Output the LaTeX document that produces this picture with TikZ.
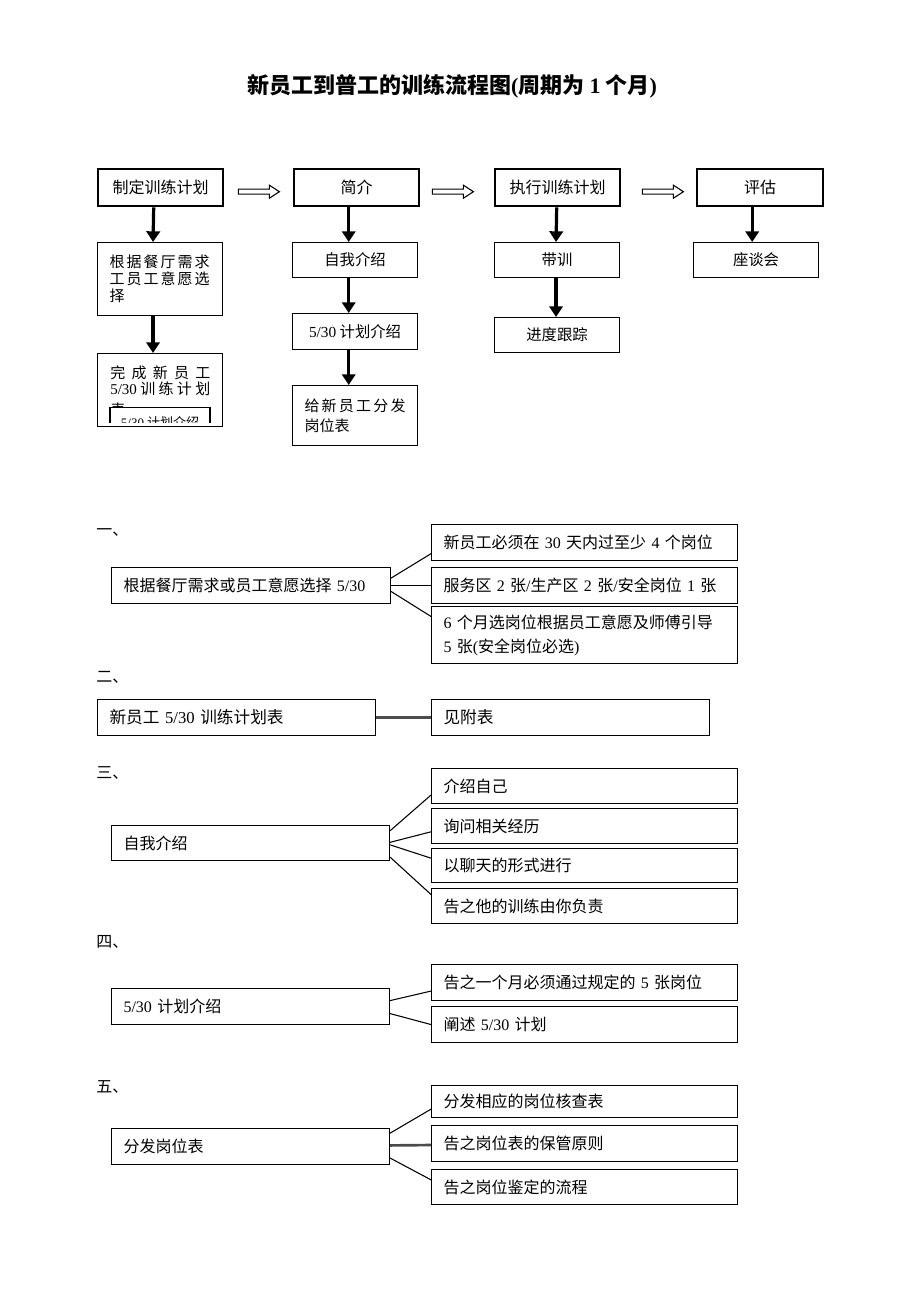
\documentclass[tikz,border=0pt]{standalone}
\usepackage{fontspec}
\setmainfont{Liberation Serif}
\newfontfamily\cjk{Noto Sans CJK SC}
\usetikzlibrary{calc,arrows.meta}
\newcommand\lt[1]{{\rmfamily #1}}
\tikzset{
  base/.style={inner sep=0pt, font=\cjk\fontsize{12}{15}\selectfont},
  topbox/.style={base, draw, line width=1.8pt, anchor=north west, align=center},
  cbox/.style={base, draw, line width=0.8pt, anchor=north west, align=center, font=\cjk\fontsize{11.5}{15}\selectfont},
  lbox/.style={base, draw, line width=0.8pt, anchor=north west, align=left, inner xsep=9pt},
  varrow/.style={line width=2.4pt, -{Triangle[width=10pt,length=8pt]}},
  link/.style={line width=0.8pt},
  glink/.style={line width=2pt, draw=black!70},
  hollow/.style={line width=0.8pt},
  seclbl/.style={base, anchor=west},
}
\newcommand\bxc[7]{\node[#2, minimum width={#5*0.75pt}, minimum height={#6*0.75pt}] (#1) at (#3,#4) {#7};}
\newcommand\bxl[7]{\pgfmathsetlengthmacro\tw{(#5-24)*0.75pt}\node[#2, text width=\tw, minimum height={#6*0.75pt}] (#1) at (#3,#4) {#7};}
\newcommand\harrow[3]{\draw[hollow] ($(#1.east)+(#3,1.5)$) -- ++(31,0) -- ++(0,-4) -- ++(10,6.5) -- ++(-10,6.5) -- ++(0,-4) -- ++(-31,0) -- cycle;}
\newcommand\lk[5]{\draw[#1] ($(#2.north east)!#3!(#2.south east)$) -- ($(#4.north west)!#5!(#4.south west)$);}
\begin{document}
\begin{tikzpicture}[x=0.75pt,y=-0.75pt]
\useasboundingbox[fill=white] (0,0) rectangle (920,1302);
\node[base, font=\cjk\bfseries\fontsize{16.5}{20}\selectfont] (title) at (452,86) {新员工到普工的训练流程图\lt{(}周期为 \lt{1} 个月\lt{)}};

% row 1
\bxc{A1}{topbox}{97}{168}{125}{37}{制定训练计划}
\bxc{B1}{topbox}{293}{168}{125}{37}{简介}
\bxc{C1}{topbox}{494}{168}{125}{37}{执行训练计划}
\bxc{D1}{topbox}{696}{168}{126}{37}{评估}
\harrow{A1}{B1}{14}
\harrow{B1}{C1}{12}
\harrow{C1}{D1}{21}

% row 2
\bxl{A2}{lbox,font=\cjk\fontsize{11.25}{12.75}\selectfont}{97}{242}{125}{73}{\makebox[75pt][s]{根\hfil 据\hfil 餐\hfil 厅\hfil 需\hfil 求}\\\makebox[75pt][s]{工\hfil 员\hfil 工\hfil 意\hfil 愿\hfil 选}\\择}
\node[base, draw, line width=0.8pt, anchor=north west, minimum width={125*0.75pt}, minimum height={73*0.75pt}] (A3) at (97,353) {};
\begin{scope}
  \clip ($(A3.north west)+(1,1)$) rectangle ($(A3.south east)+(-1,-5)$);
  \node[base, anchor=base west, font=\cjk\fontsize{11.25}{12}\selectfont] (A3a) at (110,378) {\makebox[75pt][s]{完\hfil 成\hfil 新\hfil 员\hfil 工}};
  \node[base, anchor=base west, font=\cjk\fontsize{11.25}{12}\selectfont] (A3b) at (110,394) {\makebox[75pt][s]{\lt{5/30}\hfil 训\hfil 练\hfil 计\hfil 划}};
  \node[base, anchor=base west, font=\cjk\fontsize{11.25}{12}\selectfont] (A3c) at (110,415) {表};
  \node[base, draw, fill=white, line width=0.8pt, anchor=north, minimum width={100*0.75pt}, minimum height={30*0.75pt}, font=\cjk\fontsize{9.75}{10}\selectfont] (A3i) at (160,407) {\lt{5/30} 计划介绍};
\end{scope}
\bxc{B2}{cbox}{292}{242}{125}{35}{自我介绍}
\bxc{B3}{cbox}{292}{313}{125}{36}{\lt{5/30} 计划介绍}
\bxl{B4}{lbox,font=\cjk\fontsize{11.25}{15}\selectfont}{292}{385}{125}{60}{\makebox[75.75pt][s]{给\hfil 新\hfil 员\hfil 工\hfil 分\hfil 发}\\岗位表}
\bxc{C2}{cbox}{494}{242}{125}{35}{带训}
\bxc{C3}{cbox}{494}{317}{125}{35}{进度跟踪}
\bxc{D2}{cbox}{693}{242}{125}{35}{座谈会}

\draw[varrow] ($(A1.south)+(-7,0)$) -- ($(A2.north)+(-7,0)$);
\draw[varrow] ($(A2.south)+(-7,0)$) -- ($(A3.north)+(-7,0)$);
\draw[varrow] ($(B1.south)+(-8,0)$) -- ($(B2.north -| B1.south)+(-8,0)$);
\draw[varrow] ($(B2.south -| B1.south)+(-8,0)$) -- ($(B3.north -| B1.south)+(-8,0)$);
\draw[varrow] ($(B3.south -| B1.south)+(-8,0)$) -- ($(B4.north -| B1.south)+(-8,0)$);
\draw[varrow] ($(C1.south)+(-1,0)$) -- ($(C2.north)+(-1,0)$);
\draw[varrow] ($(C2.south)+(-1,0)$) -- ($(C3.north)+(-1,0)$);
\draw[varrow] ($(D1.south)+(-8,0)$) -- ($(D2.north -| D1.south)+(-8,0)$);

% section 1
\node[seclbl] (L1) at (96,532) {一、};
\bxl{S1}{lbox}{111}{567}{279}{36}{根据餐厅需求或员工意愿选择 \lt{5/30}}
\bxl{S1a}{lbox}{431}{524}{306}{36}{新员工必须在 \lt{30} 天内过至少 \lt{4} 个岗位}
\bxl{S1b}{lbox}{431}{567}{306}{36}{服务区 \lt{2} 张\lt{/}生产区 \lt{2} 张\lt{/}安全岗位 \lt{1} 张}
\bxl{S1c}{lbox,font=\cjk\fontsize{12}{18}\selectfont}{431}{606}{306}{57}{\lt{6} 个月选岗位根据员工意愿及师傅引导\\\lt{5} 张\lt{(}安全岗位必选\lt{)}}
\lk{link}{S1}{0.3}{S1a}{0.8}
\lk{link}{S1}{0.5}{S1b}{0.5}
\lk{link}{S1}{0.66}{S1c}{0.18}

% section 2
\node[seclbl] (L2) at (96,677) {二、};
\bxl{S2}{lbox,font=\cjk\fontsize{12.5}{15}\selectfont}{97}{699}{278}{36}{新员工 \lt{5/30} 训练计划表}
\bxl{S2a}{lbox,font=\cjk\fontsize{12.5}{15}\selectfont}{431}{699}{278}{36}{见附表}
\draw[glink] (S2) -- (S2a);

% section 3
\node[seclbl] (L3) at (96,773) {三、};
\bxl{S3}{lbox}{111}{825}{278}{35}{自我介绍}
\bxl{S3a}{lbox}{431}{768}{306}{35}{介绍自己}
\bxl{S3b}{lbox}{431}{808}{306}{35}{询问相关经历}
\bxl{S3c}{lbox}{431}{848}{306}{34}{以聊天的形式进行}
\bxl{S3d}{lbox}{431}{888}{306}{35}{告之他的训练由你负责}
\lk{link}{S3}{0.16}{S3a}{0.75}
\lk{link}{S3}{0.48}{S3b}{0.66}
\lk{link}{S3}{0.55}{S3c}{0.29}
\lk{link}{S3}{0.89}{S3d}{0.18}

% section 4
\node[seclbl] (L4) at (96,942) {四、};
\bxl{S4}{lbox}{111}{988}{278}{36}{\lt{5/30} 计划介绍}
\bxl{S4a}{lbox}{431}{964}{306}{36}{告之一个月必须通过规定的 \lt{5} 张岗位}
\bxl{S4b}{lbox}{431}{1006}{306}{36}{阐述 \lt{5/30} 计划}
\lk{link}{S4}{0.34}{S4a}{0.73}
\lk{link}{S4}{0.69}{S4b}{0.5}

% section 5
\node[seclbl] (L5) at (96,1087) {五、};
\bxl{S5}{lbox}{111}{1128}{278}{36}{分发岗位表}
\bxl{S5a}{lbox}{431}{1085}{306}{32}{分发相应的岗位核查表}
\bxl{S5b}{lbox}{431}{1125}{306}{36}{告之岗位表的保管原则}
\bxl{S5c}{lbox}{431}{1169}{306}{35}{告之岗位鉴定的流程}
\lk{link}{S5}{0.14}{S5a}{0.73}
\lk{glink}{S5}{0.47}{S5b}{0.54}
\lk{link}{S5}{0.81}{S5c}{0.3}
\end{tikzpicture}
\end{document}
